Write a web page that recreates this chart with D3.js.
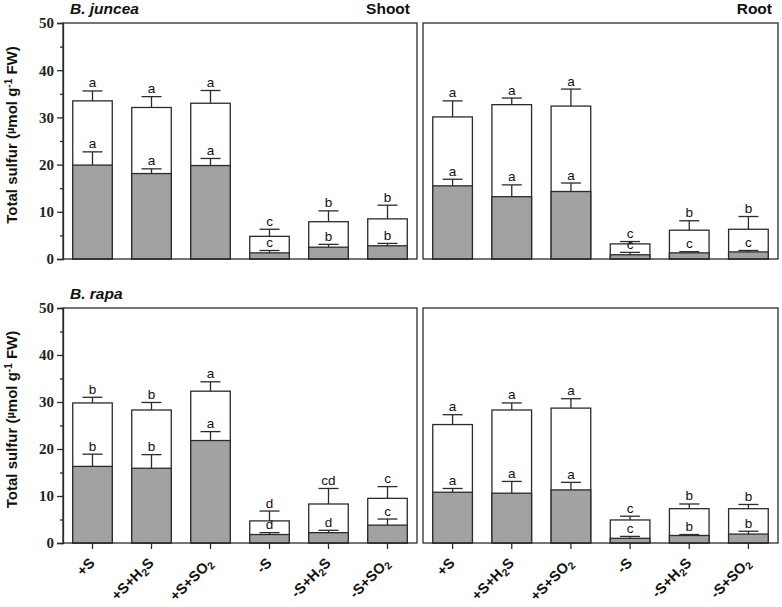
<!DOCTYPE html>
<html><head><meta charset="utf-8">
<script src="https://cdn.jsdelivr.net/npm/d3@7"></script>
<style>body{margin:0;background:#fff}svg{display:block}</style>
</head><body>
<svg id="c" width="782" height="607"></svg>
<script>
// ---- data ----
const categories = ["+S","+S+H2S","+S+SO2","-S","-S+H2S","-S+SO2"];
const yTicks = [0,10,20,30,40,50];
const yMinorTicks = [5,15,25,35,45];

const junceaShootTotal    = [33.5,32.1,33.0,4.8,7.9,8.5];
const junceaShootTotalSE  = [2.1,2.3,2.7,1.5,2.3,2.9];
const junceaShootTotalLet = ["a","a","a","c","b","b"];
const junceaShootPart     = [19.9,18.1,19.8,1.3,2.5,2.8];
const junceaShootPartSE   = [2.8,1.0,1.5,0.5,0.6,0.5];
const junceaShootPartLet  = ["a","a","a","c","b","b"];

const junceaRootTotal     = [30.1,32.7,32.4,3.2,6.1,6.3];
const junceaRootTotalSE   = [3.4,1.4,3.6,0.5,2.0,2.7];
const junceaRootTotalLet  = ["a","a","a","c","b","b"];
const junceaRootPart      = [15.5,13.2,14.3,0.9,1.3,1.5];
const junceaRootPartSE    = [1.4,2.5,1.8,0.5,0.25,0.3];
const junceaRootPartLet   = ["a","a","a","c","c","c"];

const rapaShootTotal      = [29.8,28.3,32.3,4.7,8.3,9.5];
const rapaShootTotalSE    = [1.2,1.6,2.0,2.1,3.3,2.5];
const rapaShootTotalLet   = ["b","b","a","d","cd","c"];
const rapaShootPart       = [16.3,15.9,21.8,1.8,2.2,3.8];
const rapaShootPartSE     = [2.6,2.9,1.9,0.4,0.5,1.3];
const rapaShootPartLet    = ["b","b","a","d","d","c"];

const rapaRootTotal       = [25.2,28.3,28.7,4.9,7.3,7.3];
const rapaRootTotalSE     = [2.1,1.5,2.0,0.8,1.0,0.9];
const rapaRootTotalLet    = ["a","a","a","c","b","b"];
const rapaRootPart        = [10.8,10.6,11.3,1.0,1.6,1.9];
const rapaRootPartSE      = [0.8,2.5,1.6,0.4,0.2,0.6];
const rapaRootPartLet     = ["a","a","a","c","b","b"];

// ---- layout ----
const svg = d3.select("#c");
const rows = [{y0:259,y1:23,species:"B. juncea",titleY:14},{y0:543,y1:308,species:"B. rapa",titleY:299}];
const cols = [{x0:63,x1:417,organ:"Shoot"},{x0:423,x1:778,organ:"Root"}];
const panels = [
  {r:0,c:0,tot:junceaShootTotal,totSE:junceaShootTotalSE,totL:junceaShootTotalLet,part:junceaShootPart,partSE:junceaShootPartSE,partL:junceaShootPartLet},
  {r:0,c:1,tot:junceaRootTotal,totSE:junceaRootTotalSE,totL:junceaRootTotalLet,part:junceaRootPart,partSE:junceaRootPartSE,partL:junceaRootPartLet},
  {r:1,c:0,tot:rapaShootTotal,totSE:rapaShootTotalSE,totL:rapaShootTotalLet,part:rapaShootPart,partSE:rapaShootPartSE,partL:rapaShootPartLet},
  {r:1,c:1,tot:rapaRootTotal,totSE:rapaRootTotalSE,totL:rapaRootTotalLet,part:rapaRootPart,partSE:rapaRootPartSE,partL:rapaRootPartLet}
];
const stroke = "#2b2b2b";
const grey = "#a2a2a2";
const sans = "Liberation Sans, Arial, sans-serif";

panels.forEach(p => {
  const R = rows[p.r], C = cols[p.c];
  const y = d3.scaleLinear().domain([0,50]).range([R.y0,R.y1]);
  const x = d3.scaleBand().domain(categories).range([C.x0,C.x1]).paddingInner(0.33).paddingOuter(0.165);
  const g = svg.append("g");
  const bw = x.bandwidth(), capW = 20;

  function drawBars(vals, fill){
    g.append("g").selectAll("rect").data(categories).join("rect")
      .attr("x",d=>x(d)).attr("y",(d,i)=>y(vals[i])).attr("width",bw)
      .attr("height",(d,i)=>y(0)-y(vals[i])).attr("fill",fill).attr("stroke",stroke).attr("stroke-width",1.3);
  }
  function drawErr(vals, se, lets){
    categories.forEach((cat,i) => {
      const cx = x(cat) + bw/2;
      const top = y(vals[i]+se[i]);
      g.append("line").attr("x1",cx).attr("x2",cx).attr("y1",y(vals[i])).attr("y2",top)
        .attr("stroke",stroke).attr("stroke-width",1.3);
      g.append("line").attr("x1",cx-capW/2).attr("x2",cx+capW/2).attr("y1",top).attr("y2",top)
        .attr("stroke",stroke).attr("stroke-width",1.3);
      g.append("text").attr("x",cx).attr("y",top-3.5).attr("text-anchor","middle")
        .attr("font-family",sans).attr("font-size",13.5).attr("fill","#111").text(lets[i]);
    });
  }
  drawBars(p.tot,"#fff");
  drawErr(p.tot,p.totSE,p.totL);
  drawBars(p.part,grey);
  drawErr(p.part,p.partSE,p.partL);

  // frame
  g.append("rect").attr("x",C.x0).attr("y",R.y1).attr("width",C.x1-C.x0).attr("height",R.y0-R.y1)
    .attr("fill","none").attr("stroke",stroke).attr("stroke-width",1.3);

  if (p.c === 0) {
    const ax = g.append("g").attr("transform",`translate(${C.x0},0)`)
      .call(d3.axisLeft(y).tickValues(yTicks).tickSize(6).tickPadding(3).tickFormat(d3.format("d")));
    ax.select(".domain").attr("stroke",stroke).attr("stroke-width",1.3);
    ax.selectAll(".tick line").attr("stroke",stroke).attr("stroke-width",1.3);
    ax.selectAll("text").attr("font-family","Liberation Serif, Times New Roman, serif")
      .attr("font-weight","bold").attr("font-size",15).attr("fill","#222");
    const minor = g.append("g").attr("transform",`translate(${C.x0},0)`)
      .call(d3.axisLeft(y).tickValues(yMinorTicks).tickSize(3).tickFormat(""));
    minor.select(".domain").remove();
    minor.selectAll(".tick line").attr("stroke",stroke).attr("stroke-width",1.3);

    const lab = g.append("text").attr("transform",`translate(17,${(R.y0+R.y1)/2-6}) rotate(-90)`)
      .attr("text-anchor","middle").attr("font-family",sans).attr("font-weight","bold")
      .attr("font-size",15).attr("fill","#111");
    lab.append("tspan").text("Total sulfur (");
    lab.append("tspan").attr("font-size",11).attr("baseline-shift","25%").text("µ");
    lab.append("tspan").text("mol g");
    lab.append("tspan").attr("font-size",10).attr("baseline-shift","super").text("-1");
    lab.append("tspan").text(" FW)");
  }

  if (p.r === 1) {
    const xa = g.append("g").attr("transform",`translate(0,${R.y0})`)
      .call(d3.axisBottom(x).tickSize(6).tickFormat(""));
    xa.select(".domain").remove();
    xa.selectAll(".tick line").attr("stroke",stroke).attr("stroke-width",1.3);
    categories.forEach(cat => {
      const cx = x(cat) + bw/2;
      const t = g.append("text").attr("transform",`translate(${cx+3},${R.y0+21}) rotate(-45)`)
        .attr("text-anchor","end").attr("font-family",sans).attr("font-weight","bold")
        .attr("font-size",14.5).attr("fill","#111");
      const idx = cat.indexOf("2");
      if (idx >= 0) {
        t.append("tspan").text(cat.slice(0,idx));
        t.append("tspan").attr("font-size",10.5).attr("dy",3).text("2");
        t.append("tspan").attr("dy",-3).text(cat.slice(idx+1));
      } else t.text(cat);
    });
  }
});

// titles
rows.forEach(R => {
  svg.append("text").attr("x",70).attr("y",R.titleY).attr("font-family",sans).attr("font-weight","bold")
    .attr("font-style","italic").attr("font-size",15.5).attr("fill","#111").text(R.species);
});
svg.append("text").attr("x",410).attr("y",14).attr("text-anchor","end").attr("font-family",sans)
  .attr("font-weight","bold").attr("font-size",15.5).attr("fill","#111").text("Shoot");
svg.append("text").attr("x",772).attr("y",14).attr("text-anchor","end").attr("font-family",sans)
  .attr("font-weight","bold").attr("font-size",15.5).attr("fill","#111").text("Root");
</script>
</body></html>
